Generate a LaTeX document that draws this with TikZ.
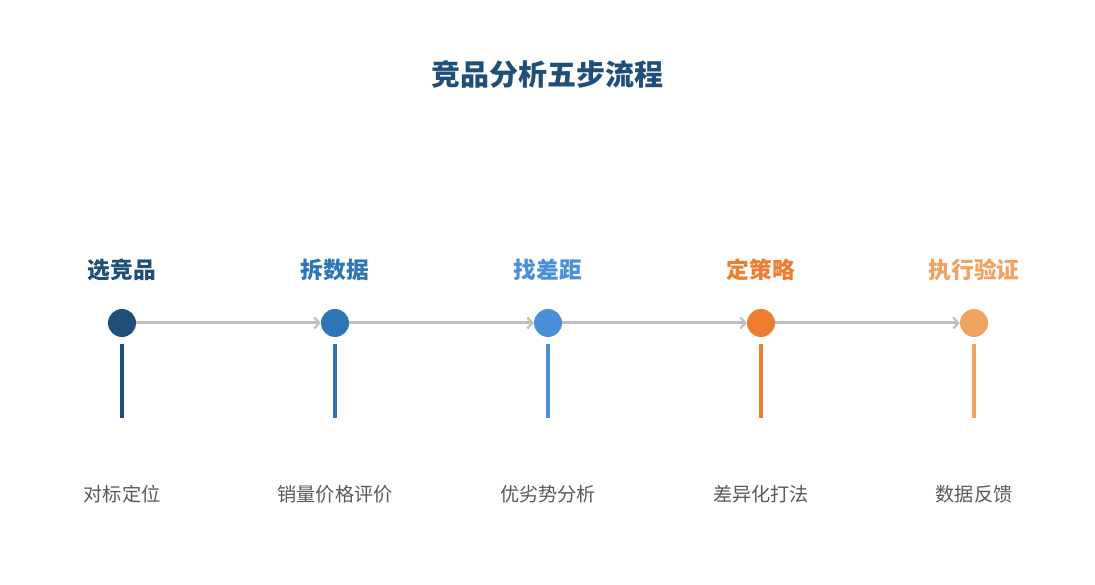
\documentclass[tikz,border=0pt]{standalone}
\usepackage{fontspec}
\setmainfont{Noto Sans CJK SC}
\usetikzlibrary{arrows.meta}
\definecolor{stepA}{HTML}{1F4E79}
\definecolor{stepB}{HTML}{2E75B6}
\definecolor{stepC}{HTML}{4A90D9}
\definecolor{stepD}{HTML}{ED7D31}
\definecolor{stepE}{HTML}{F0A35E}
\definecolor{linegray}{HTML}{BFBFBF}
\definecolor{textgray}{HTML}{595959}
\begin{document}
\begin{tikzpicture}[x=1pt,y=-1pt,
    dot/.style={circle,fill=#1,inner sep=0pt,minimum size=28pt},
    head/.style={text=#1,font=\fontsize{22.7}{26}\selectfont\bfseries,inner sep=0pt},
    sub/.style={text=textgray,font=\fontsize{19.2}{22}\selectfont,inner sep=0pt},
    bar/.style={draw=#1,line width=4pt},
    link/.style={draw=linegray,line width=3pt,-{Straight Barb[length=5pt,width=11pt,line width=2.2pt]}}]
      \useasboundingbox (0,0) rectangle (1095,585);%

      \node[text=stepA,font=\fontsize{29}{33}\selectfont\bfseries,inner sep=0pt] (title) at (547,74) {竞品分析五步流程};%

      \node[dot=stepA] (P1) at (122,323) {};%
      \node[dot=stepB] (P2) at (335,323) {};%
      \node[dot=stepC] (P3) at (548,323) {};%
      \node[dot=stepD] (P4) at (761,323) {};%
      \node[dot=stepE] (P5) at (974,323) {};%

      \node[head=stepA] (H1) at (122,270) {选竞品};%
      \node[head=stepB] (H2) at (335,270) {拆数据};%
      \node[head=stepC] (H3) at (548,270) {找差距};%
      \node[head=stepD] (H4) at (761,270) {定策略};%
      \node[head=stepE] (H5) at (974,270) {执行验证};%

      \node[sub] (S1) at (122,494) {对标定位};%
      \node[sub] (S2) at (335,494) {销量价格评价};%
      \node[sub] (S3) at (548,494) {优劣势分析};%
      \node[sub] (S4) at (761,494) {差异化打法};%
      \node[sub] (S5) at (974,494) {数据反馈};%

      \coordinate (T1) at (122,344); \coordinate (B1) at (122,418);%
      \coordinate (T2) at (335,344); \coordinate (B2) at (335,418);%
      \coordinate (T3) at (548,344); \coordinate (B3) at (548,418);%
      \coordinate (T4) at (761,344); \coordinate (B4) at (761,418);%
      \coordinate (T5) at (974,344); \coordinate (B5) at (974,418);%

      \draw[link] (P1.east) -- (P2.west);%
      \draw[link] (P2.east) -- (P3.west);%
      \draw[link] (P3.east) -- (P4.west);%
      \draw[link] (P4.east) -- (P5.west);%

      \draw[bar=stepA] (T1) -- (B1);%
      \draw[bar=stepB] (T2) -- (B2);%
      \draw[bar=stepC] (T3) -- (B3);%
      \draw[bar=stepD] (T4) -- (B4);%
      \draw[bar=stepE] (T5) -- (B5);%
    \end{tikzpicture}
\end{document}
